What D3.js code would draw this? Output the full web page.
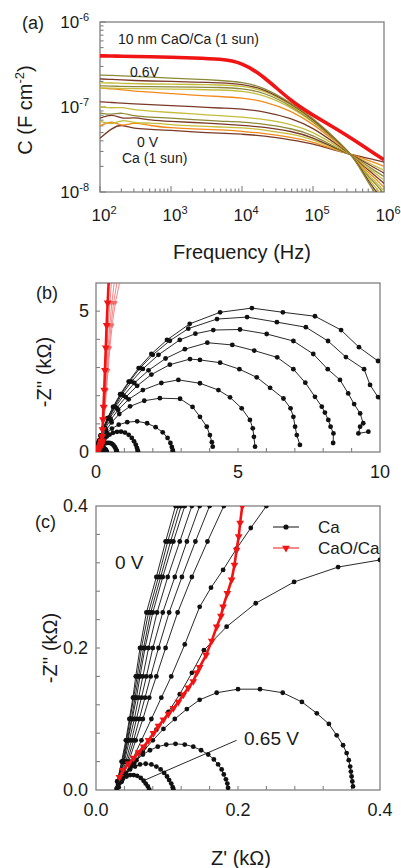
<!DOCTYPE html>
<html><head><meta charset="utf-8">
<script src="https://cdn.jsdelivr.net/npm/d3@7"></script>
<style>
body{margin:0;background:#fff}
svg text{font-family:"Liberation Sans",Arial,sans-serif;fill:#1a1a1a}
</style></head><body>
<svg id="fig" width="401" height="868"></svg>
<script>
// ---- panel (a): capacitance spectra, C in nF cm^-2 ----
const freqHz = [100,150,200,300,500,1e3,2e3,5e3,1e4,2e4,5e4,1e5,2e5,3.6e5,5e5,7e5,1e6];
const capCaO = [400,398,396,393,390,385,378,368,335,232,115,80,57,42,35,29,24];
const capCa = [
  [43,57,63,55,55,53,51,49,48,46,41,37,31,27.5,25.8,24.2,22.5],      // 0 V
  [60,70,58,67,60,57,55,54,52,49,44,39,31.5,27.3,24.9,22.5,20],
  [68,61,72,65,65,62,60,58,57,54,48,42,32,27.2,23.8,20.8,18],
  [74,83,72,76,70,67.5,66,63,61,58,52,44,33,27.1,23.2,19.7,16.7],
  [85,80.5,87,78,76,74,71,68,67,63,56,47,34,27,22.2,18.3,15.2],
  [100,97,100,92,90,86,83,79,76,72,63,51,36,27,21.1,17.4,13.8],
  [115,113,111,109,107,104,101,97,95,89,74,57,38,27,20.3,16.5,12.6],
  [167,163,159,154,150,144,138,133,128,118,90,63,40,27,19.4,15.4,11.3],
  [167,167,165,165,163,163,161,159,154,140,99,67,41.5,27,18.5,14.3,10.3],
  [177,177,174,174,174,172,172,170,165,150,103,68,42,27,17.7,13.5,9.5],
  [192,192,189,189,186,186,184,182,177,159,106,70,43,27,17.4,12.4,8.5],
  [214,211,208,205,202,200,197,192,186,165,109,72,43,27,17.2,11.3,7.6],
  [238,235,232,229,225,219,214,205,197,172,111,74,44,27,16.7,10.4,6.8]   // 0.6 V
];
const capCaColors = ['#7a3a28','#f28a1c','#c4bd3c','#7a3a28','#8c8a3a','#c4bd3c','#7a3a28',
                     '#f28a1c','#c4bd3c','#8c8a3a','#c4bd3c','#7a3a28','#8c8a3a'];

// ---- panels (b),(c): Nyquist data, [Z', -Z''] in kOhm, high -> low frequency ----
const ca000 = [[0.030,0.012],[0.036,0.040],[0.042,0.070],[0.047,0.100],[0.052,0.130],[0.056,0.160],[0.062,0.200],[0.071,0.250],[0.085,0.300],[0.098,0.350],[0.112,0.400],[0.160,0.580],[0.250,0.850],[0.400,1.200],[0.600,1.600],[0.850,2.050],[1.150,2.500],[1.500,2.980],[1.950,3.480],[2.500,3.980],[3.300,4.550],[4.370,4.960],[5.490,5.110],[6.580,4.960],[7.710,4.820],[8.630,4.330],[9.260,3.720],[9.930,3.230],[10.50,2.700]];
const ca005 = [[0.030,0.012],[0.037,0.040],[0.043,0.070],[0.048,0.100],[0.053,0.130],[0.058,0.160],[0.064,0.200],[0.074,0.250],[0.088,0.300],[0.101,0.350],[0.116,0.400],[0.165,0.580],[0.260,0.850],[0.410,1.200],[0.620,1.600],[0.880,2.050],[1.180,2.500],[1.550,2.980],[2.000,3.450],[2.600,3.950],[3.250,4.380],[4.260,4.720],[5.320,4.790],[6.370,4.610],[7.390,4.430],[8.170,3.940],[8.800,3.370],[9.440,2.940],[9.650,2.380],[9.930,1.950],[10.30,1.500]];
const ca010 = [[0.031,0.012],[0.038,0.040],[0.044,0.070],[0.050,0.100],[0.055,0.130],[0.060,0.160],[0.067,0.200],[0.077,0.250],[0.091,0.300],[0.105,0.350],[0.120,0.400],[0.172,0.580],[0.270,0.850],[0.430,1.200],[0.650,1.600],[0.920,2.050],[1.250,2.500],[1.650,2.950],[2.200,3.450],[2.950,3.980],[3.500,4.200],[4.130,4.330],[5.070,4.350],[6.010,4.190],[6.950,3.940],[7.650,3.480],[8.160,2.940],[8.590,2.560],[8.880,2.080],[9.090,1.700],[9.300,1.370],[9.410,1.020],[9.300,0.900],[9.240,0.660],[9.590,0.720]];
const ca015 = [[0.031,0.012],[0.039,0.040],[0.045,0.070],[0.051,0.100],[0.057,0.130],[0.062,0.160],[0.069,0.200],[0.080,0.250],[0.094,0.300],[0.109,0.350],[0.125,0.400],[0.180,0.580],[0.280,0.850],[0.450,1.200],[0.680,1.600],[0.970,2.000],[1.350,2.450],[1.850,2.900],[2.450,3.320],[3.130,3.650],[3.920,3.880],[4.800,3.800],[5.570,3.600],[6.380,3.360],[6.950,2.940],[7.370,2.460],[7.710,1.960],[7.950,1.610],[8.060,1.400],[8.180,1.140],[8.260,0.900],[8.360,0.660],[8.350,0.320]];
const ca020 = [[0.032,0.012],[0.040,0.040],[0.047,0.070],[0.054,0.100],[0.060,0.130],[0.066,0.160],[0.074,0.200],[0.086,0.250],[0.101,0.300],[0.118,0.350],[0.135,0.400],[0.195,0.580],[0.300,0.850],[0.480,1.200],[0.730,1.560],[1.050,1.950],[1.450,2.350],[1.950,2.750],[2.600,3.100],[3.310,3.300],[3.660,3.270],[4.370,3.170],[5.050,2.940],[5.660,2.650],[6.130,2.280],[6.600,1.900],[6.850,1.550],[6.950,1.250],[7.010,0.900],[7.070,0.600],[7.180,0.250]];
const ca025 = [[0.033,0.012],[0.042,0.040],[0.050,0.070],[0.057,0.100],[0.064,0.130],[0.071,0.160],[0.080,0.200],[0.094,0.250],[0.111,0.300],[0.128,0.350],[0.146,0.400],[0.210,0.580],[0.330,0.850],[0.520,1.150],[0.780,1.500],[1.150,1.870],[1.650,2.200],[2.300,2.450],[2.900,2.560],[3.660,2.440],[4.310,2.200],[4.720,1.940],[5.130,1.550],[5.420,1.140],[5.520,0.840],[5.560,0.540],[5.600,0.190]];
const ca030 = [[0.034,0.012],[0.044,0.040],[0.053,0.070],[0.061,0.100],[0.069,0.130],[0.077,0.160],[0.088,0.200],[0.103,0.250],[0.121,0.300],[0.140,0.350],[0.160,0.400],[0.230,0.550],[0.360,0.780],[0.550,1.050],[0.820,1.350],[1.200,1.620],[1.700,1.820],[2.250,1.910],[2.960,1.890],[3.400,1.600],[3.660,1.250],[3.900,0.900],[4.010,0.600],[4.080,0.350],[4.110,0.190]];
const ca035 = [[0.035,0.012],[0.046,0.040],[0.056,0.070],[0.066,0.100],[0.075,0.130],[0.085,0.160],[0.098,0.200],[0.115,0.250],[0.135,0.300],[0.157,0.350],[0.180,0.400],[0.260,0.520],[0.380,0.670],[0.560,0.830],[0.800,0.970],[1.100,1.060],[1.450,1.090],[1.800,1.020],[2.100,0.880],[2.350,0.700],[2.520,0.500],[2.620,0.320],[2.670,0.180],[2.700,0.070],[2.710,0.020]];
const ca040 = [[0.036,0.012],[0.050,0.040],[0.064,0.070],[0.078,0.100],[0.092,0.130],[0.106,0.160],[0.125,0.205],[0.146,0.258],[0.162,0.285],[0.179,0.310],[0.198,0.340],[0.218,0.369],[0.240,0.400],[0.300,0.470],[0.380,0.550],[0.480,0.620],[0.600,0.680],[0.740,0.715],[0.880,0.720],[1.020,0.690],[1.150,0.610],[1.260,0.500],[1.340,0.380],[1.400,0.260],[1.440,0.150],[1.465,0.070],[1.480,0.020]];
const ca045 = [[0.036,0.012],[0.052,0.035],[0.068,0.060],[0.085,0.085],[0.102,0.110],[0.118,0.135],[0.135,0.165],[0.152,0.197],[0.184,0.230],[0.225,0.263],[0.279,0.293],[0.341,0.314],[0.400,0.324],[0.460,0.326],[0.520,0.312],[0.575,0.280],[0.620,0.235],[0.660,0.180],[0.690,0.125],[0.712,0.075],[0.728,0.035],[0.738,0.008]];
const ca050 = [[0.033,0.010],[0.042,0.022],[0.054,0.038],[0.066,0.054],[0.080,0.070],[0.095,0.086],[0.111,0.100],[0.128,0.114],[0.146,0.127],[0.170,0.137],[0.200,0.142],[0.231,0.142],[0.263,0.137],[0.290,0.124],[0.311,0.108],[0.328,0.093],[0.339,0.077],[0.348,0.063],[0.353,0.052],[0.356,0.042],[0.358,0.033],[0.359,0.026],[0.360,0.019],[0.361,0.012],[0.362,0.005]];
const ca055 = [[0.032,0.004],[0.036,0.014],[0.042,0.024],[0.049,0.033],[0.057,0.042],[0.066,0.050],[0.076,0.056],[0.087,0.061],[0.099,0.064],[0.112,0.065],[0.125,0.064],[0.137,0.061],[0.148,0.056],[0.158,0.050],[0.166,0.043],[0.172,0.036],[0.177,0.029],[0.180,0.022],[0.183,0.015],[0.185,0.009],[0.186,0.003]];
const ca060 = [[0.030,0.003],[0.033,0.010],[0.037,0.017],[0.042,0.023],[0.048,0.029],[0.055,0.033],[0.062,0.036],[0.070,0.037],[0.078,0.036],[0.085,0.033],[0.091,0.029],[0.096,0.024],[0.100,0.019],[0.103,0.014],[0.106,0.009],[0.108,0.004],[0.109,0.001]];
const ca065 = [[0.029,0.002],[0.031,0.007],[0.034,0.012],[0.038,0.016],[0.043,0.019],[0.048,0.021],[0.053,0.021],[0.058,0.020],[0.063,0.017],[0.067,0.013],[0.070,0.009],[0.073,0.005],[0.075,0.001]];
const caNyquist = [ca000,ca005,ca010,ca015,ca020,ca025,ca030,ca035,ca040,ca045,ca050,ca055,ca060,ca065];

const caoLow = [[0.033,0.018],[0.038,0.028],[0.046,0.037],[0.053,0.045],[0.060,0.053],[0.067,0.061],[0.074,0.070],[0.081,0.080],[0.088,0.090],[0.095,0.099],[0.102,0.107],[0.109,0.115],[0.116,0.124],[0.123,0.134],[0.130,0.144],[0.137,0.153],[0.142,0.165],[0.146,0.173],[0.155,0.190],[0.163,0.210],[0.170,0.230],[0.176,0.245],[0.179,0.258],[0.185,0.277],[0.191,0.296],[0.195,0.317],[0.198,0.338],[0.201,0.357],[0.203,0.376],[0.206,0.400]];
const caoHigh = [
  [[0.215,0.55],[0.228,0.80],[0.245,1.15],[0.265,1.60],[0.290,2.20],[0.315,2.90],[0.345,3.70],[0.375,4.50],[0.410,5.30],[0.450,6.10]],
  [[0.218,0.55],[0.235,0.80],[0.255,1.15],[0.280,1.60],[0.310,2.20],[0.345,2.90],[0.385,3.70],[0.430,4.50],[0.490,5.30],[0.550,6.10]],
  [[0.220,0.55],[0.240,0.80],[0.265,1.15],[0.295,1.60],[0.330,2.20],[0.375,2.90],[0.425,3.70],[0.485,4.50],[0.560,5.30],[0.650,6.10]],
  [[0.222,0.55],[0.245,0.80],[0.275,1.15],[0.310,1.60],[0.350,2.20],[0.400,2.90],[0.460,3.70],[0.530,4.50],[0.620,5.30],[0.750,6.10]],
  [[0.225,0.55],[0.250,0.80],[0.285,1.15],[0.325,1.60],[0.370,2.20],[0.425,2.90],[0.490,3.70],[0.570,4.50],[0.680,5.30],[0.850,6.10]]
];

const svg = d3.select('#fig');
const AX = '#808080';
const RED = '#f01414';

function box(g, x, y, id) {
  const [x0, x1] = x.range(), [y0, y1] = y.range();
  svg.append('clipPath').attr('id', id).append('rect')
    .attr('x', x0).attr('y', y1).attr('width', x1 - x0).attr('height', y0 - y1);
  g.append('rect').attr('x', x0).attr('y', y1).attr('width', x1 - x0).attr('height', y0 - y1)
    .attr('fill', 'none').attr('stroke', AX).attr('stroke-width', 1.3);
}

function innerTicks(g, x, y, xs, ys, len) {
  const yb = y.range()[0], xl = x.range()[0];
  g.selectAll(null).data(xs).join('line')
    .attr('x1', d => x(d)).attr('x2', d => x(d)).attr('y1', yb).attr('y2', d => yb - len(d))
    .attr('stroke', AX).attr('stroke-width', 1.1);
  g.selectAll(null).data(ys).join('line')
    .attr('y1', d => y(d)).attr('y2', d => y(d)).attr('x1', xl).attr('x2', d => xl + len(d))
    .attr('stroke', AX).attr('stroke-width', 1.1);
}

function label(txt, x, y, size, anchor) {
  return svg.append('text').attr('x', x).attr('y', y).attr('font-size', size)
    .attr('text-anchor', anchor || 'start').text(txt);
}

// ================= (a) =================
const xA = d3.scaleLog().domain([1e2, 1e6]).range([100, 384]);
const yA = d3.scaleLog().domain([1e-8, 1e-6]).range([192, 22]);
const gA = svg.append('g');
box(gA, xA, yA, 'clipA');
const decadeMinor = (a, b) => { const out = []; for (let e = a; e < b; e++) for (let k = 1; k < 10; k++) out.push(k * Math.pow(10, e)); out.push(Math.pow(10, b)); return out; };
const isDecade = d => Math.abs(Math.log10(d) - Math.round(Math.log10(d))) < 1e-6;
innerTicks(gA, xA, yA, decadeMinor(2, 6), decadeMinor(-8, -6), d => isDecade(d) ? 6 : 3.5);

const lineA = d3.line().x(d => xA(d[0])).y(d => yA(d[1] * 1e-9)).curve(d3.curveBasis);
const plotA = gA.append('g').attr('clip-path', 'url(#clipA)');
capCa.forEach((c, i) => {
  plotA.append('path').datum(freqHz.map((f, j) => [f, c[j]]))
    .attr('d', lineA).attr('fill', 'none').attr('stroke', capCaColors[i]).attr('stroke-width', 1.3);
});
plotA.append('path').datum(freqHz.map((f, j) => [f, capCaO[j]]))
  .attr('d', lineA).attr('fill', 'none').attr('stroke', RED).attr('stroke-width', 3.6);

[2, 3, 4, 5, 6].forEach(e => {
  const t = svg.append('text').attr('x', xA(Math.pow(10, e)) + 4).attr('y', 221)
    .attr('font-size', 17).attr('text-anchor', 'middle');
  t.append('tspan').text('10');
  t.append('tspan').attr('font-size', 11).attr('dy', -7).text(e);
});
[-8, -7, -6].forEach(e => {
  const t = svg.append('text').attr('x', 89).attr('y', yA(Math.pow(10, e)) + 6)
    .attr('font-size', 17).attr('text-anchor', 'end');
  t.append('tspan').text('10');
  t.append('tspan').attr('font-size', 11).attr('dy', -7).text(e);
});
label('(a)', 22, 29, 18);
label('10 nm CaO/Ca (1 sun)', 118, 44, 14);
label('0.6V', 130, 77, 14);
label('0 V', 137, 147, 14);
label('Ca (1 sun)', 122, 163, 14);
label('Frequency (Hz)', 242, 259, 20, 'middle');
{
  const t = svg.append('text').attr('transform', 'translate(32,110) rotate(-90)')
    .attr('font-size', 20).attr('text-anchor', 'middle');
  t.append('tspan').text('C (F cm');
  t.append('tspan').attr('font-size', 13).attr('dy', -8).text('-2');
  t.append('tspan').attr('dy', 8).text(')');
}

// ================= Nyquist helpers =================
const tri = d3.symbol().type(d3.symbolTriangle).size(26);

function nyquist(g, x, y, clipId) {
  const p = g.append('g').attr('clip-path', `url(#${clipId})`);
  const ln = d3.line().x(d => x(d[0])).y(d => y(d[1]));
  caNyquist.forEach(s => {
    p.append('path').datum(s).attr('d', ln).attr('fill', 'none')
      .attr('stroke', '#111').attr('stroke-width', 0.9);
    p.selectAll(null).data(s).join('circle')
      .attr('cx', d => x(d[0])).attr('cy', d => y(d[1])).attr('r', 2.4).attr('fill', '#111');
  });
  // fan of thin CaO/Ca curves first, the main one drawn thick on top
  caoHigh.slice().reverse().forEach((h, k) => {
    const main = k === caoHigh.length - 1;
    const s = caoLow.concat(h);
    p.append('path').datum(s).attr('d', ln).attr('fill', 'none')
      .attr('stroke', main ? RED : '#f46a6a').attr('stroke-width', main ? 2.6 : 0.8);
    p.selectAll(null).data(main ? s : h).join('path')
      .attr('d', main ? tri : d3.symbol().type(d3.symbolTriangle).size(10)).attr('fill', main ? RED : '#f46a6a')
      .attr('transform', d => `translate(${x(d[0])},${y(d[1])}) rotate(180)`);
  });
}

// ================= (b) =================
const xB = d3.scaleLinear().domain([0, 10]).range([96, 380]);
const yB = d3.scaleLinear().domain([0, 6]).range([452, 283]);
const gB = svg.append('g');
box(gB, xB, yB, 'clipB');
innerTicks(gB, xB, yB, d3.range(1, 10), d3.range(1, 6), () => 4);
nyquist(gB, xB, yB, 'clipB');
[0, 5, 10].forEach(v => label(String(v), xB(v), 478, 18, 'middle'));
[0, 5].forEach(v => label(String(v), 89, yB(v) + 6, 18, 'end'));
label('(b)', 36, 299, 18);
svg.append('text').attr('transform', 'translate(51,372) rotate(-90)')
  .attr('font-size', 20).attr('text-anchor', 'middle').text('-Z\'\' (k\u03A9)');

// ================= (c) =================
const xC = d3.scaleLinear().domain([0, 0.4]).range([96, 380]);
const yC = d3.scaleLinear().domain([0, 0.4]).range([790, 506]);
const gC = svg.append('g');
box(gC, xC, yC, 'clipC');
const stepsC = d3.range(1, 10).map(k => k * 0.04);
innerTicks(gC, xC, yC, stepsC, stepsC, () => 4);
nyquist(gC, xC, yC, 'clipC');
[0, 0.2, 0.4].forEach(v => label(v.toFixed(1), xC(v), 816, 18, 'middle'));
[0, 0.2, 0.4].forEach(v => label(v.toFixed(1), 88, yC(v) + 6, 18, 'end'));
label('(c)', 35, 528, 18);
svg.append('text').attr('transform', 'translate(57,648) rotate(-90)')
  .attr('font-size', 20).attr('text-anchor', 'middle').text('-Z\'\' (k\u03A9)');
label('Z\' (k\u03A9)', 241, 865, 20, 'middle');
label('0 V', 115, 569, 19);
label('0.65 V', 244, 745, 19);
gC.append('line').attr('x1', xC(0.069)).attr('y1', yC(0.014)).attr('x2', xC(0.198)).attr('y2', yC(0.07))
  .attr('stroke', '#111').attr('stroke-width', 0.9);

// legend
const leg = svg.append('g');
leg.append('line').attr('x1', 273).attr('x2', 299).attr('y1', 527).attr('y2', 527).attr('stroke', '#111').attr('stroke-width', 1);
leg.append('circle').attr('cx', 286).attr('cy', 527).attr('r', 2.6).attr('fill', '#111');
leg.append('line').attr('x1', 273).attr('x2', 299).attr('y1', 548).attr('y2', 548).attr('stroke', RED).attr('stroke-width', 1);
leg.append('path').attr('d', tri).attr('fill', RED).attr('transform', 'translate(286,548) rotate(180)');
label('Ca', 318, 533, 17);
label('CaO/Ca', 318, 554, 17);
</script></body></html>
